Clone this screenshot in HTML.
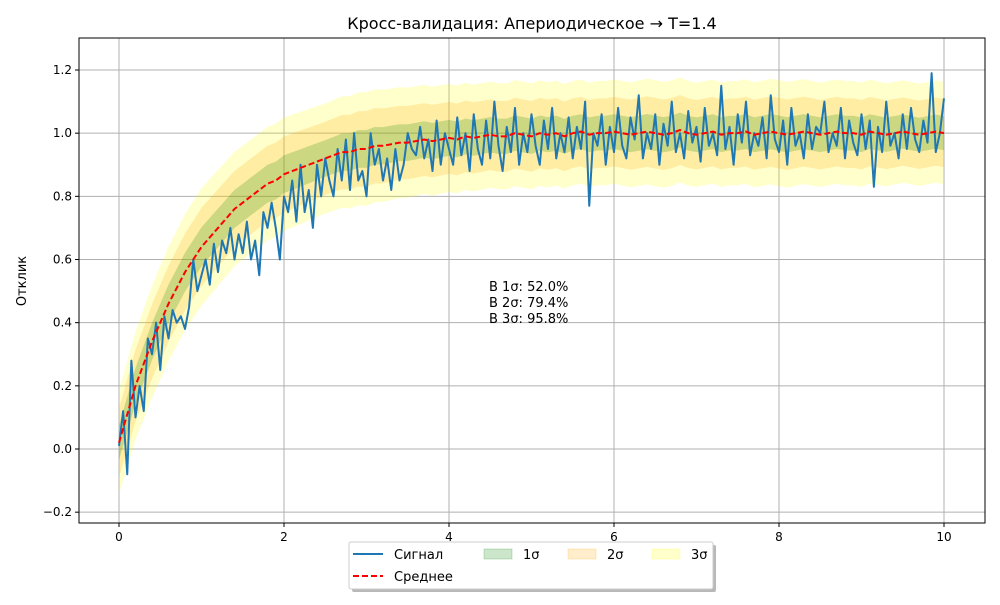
<!DOCTYPE html>
<html><head><meta charset="utf-8"><style>
body{margin:0;background:#fff;font-family:"Liberation Sans","DejaVu Sans",sans-serif}
</style></head><body>
<svg id="chart" width="1000" height="600" xmlns="http://www.w3.org/2000/svg" font-family="DejaVu Sans, Liberation Sans, sans-serif">
<rect width="1000" height="600" fill="#fff"/>
<g id="grid"></g>
<g id="bands"></g>
<g id="lines"></g>
<rect x="79" y="38" width="906" height="485" fill="none" stroke="#000" stroke-width="1"/>
<g id="ticks" font-size="12"></g>
<text x="532" y="29" text-anchor="middle" font-size="16">Кросс-валидация: Апериодическое → T=1.4</text>
<text transform="translate(26,281) rotate(-90)" text-anchor="middle" font-size="13">Отклик</text>
<g font-size="13">
<text x="489" y="291">В 1σ: 52.0%</text>
<text x="489" y="307">В 2σ: 79.4%</text>
<text x="489" y="323">В 3σ: 95.8%</text>
</g>
<g>
<rect x="352" y="545" width="364" height="47" rx="2" fill="#888" opacity="0.6"/>
<rect x="349" y="542" width="364" height="47" rx="2" fill="#fff" stroke="#ccc"/>
<line x1="353" y1="554" x2="383" y2="554" stroke="#1f77b4" stroke-width="2"/>
<text x="394" y="559" font-size="13">Сигнал</text>
<line x1="353" y1="576" x2="383" y2="576" stroke="#f00" stroke-width="2" stroke-dasharray="6,3"/>
<text x="394" y="581" font-size="13">Среднее</text>
<rect x="484" y="549" width="28" height="10" fill="green" fill-opacity="0.2" stroke="green" stroke-opacity="0.2"/>
<text x="523" y="559" font-size="13">1σ</text>
<rect x="568" y="549" width="28" height="10" fill="orange" fill-opacity="0.2" stroke="orange" stroke-opacity="0.2"/>
<text x="607" y="559" font-size="13">2σ</text>
<rect x="652" y="549" width="28" height="10" fill="yellow" fill-opacity="0.2" stroke="yellow" stroke-opacity="0.2"/>
<text x="691" y="559" font-size="13">3σ</text>
</g>
</svg>
<script>
const xTicks=[0,2,4,6,8,10];
const yTicks=[-0.2,0,0.2,0.4,0.6,0.8,1.0,1.2];
const signalStep=0.05;
const signal=[0.01,0.12,-0.08,0.28,0.10,0.20,0.12,0.35,0.30,0.40,0.25,0.42,0.35,0.44,0.40,0.42,0.38,0.45,0.60,0.50,
0.55,0.60,0.52,0.65,0.56,0.66,0.62,0.70,0.60,0.68,0.62,0.72,0.60,0.66,0.55,0.75,0.70,0.78,0.70,0.60,
0.80,0.75,0.85,0.72,0.90,0.75,0.82,0.70,0.90,0.80,0.92,0.85,0.80,0.95,0.85,0.98,0.82,1.00,0.85,0.88,
0.80,1.00,0.90,0.95,0.85,0.92,0.82,0.95,0.85,0.90,1.00,0.95,0.93,1.02,0.92,0.98,0.88,1.04,0.90,1.00,
0.95,0.90,1.05,0.93,1.00,0.88,1.06,0.95,0.90,1.04,0.92,1.10,0.96,0.88,1.02,0.94,1.08,0.90,1.00,0.94,
1.06,0.96,0.90,1.04,0.95,1.08,0.92,1.00,0.94,1.05,0.92,1.02,0.95,1.10,0.77,1.00,0.96,1.06,0.90,1.02,
0.94,1.08,0.96,0.92,1.05,0.98,1.12,0.92,1.00,0.95,1.06,0.90,1.03,0.96,1.10,0.94,1.00,0.92,1.07,0.97,
1.02,0.91,1.08,0.96,1.00,0.93,1.15,0.95,1.02,0.90,1.06,0.97,1.10,0.93,1.00,0.96,1.05,0.92,1.12,0.98,
0.94,1.04,0.90,1.08,0.96,1.00,0.92,1.06,0.95,1.02,1.00,1.10,0.94,1.00,0.96,1.08,0.92,1.04,0.97,0.93,
1.06,0.95,1.04,0.83,1.02,0.94,1.10,0.96,1.00,0.92,1.06,0.95,1.08,0.98,0.94,1.04,0.97,1.19,0.94,1.00,
1.11];
const meanStep=0.1;
const meanVals=[0.02,0.11,0.20,0.27,0.34,0.40,0.46,0.51,0.56,0.60,0.64,0.67,0.70,0.73,0.76,0.78,0.80,0.82,0.84,0.85,
0.87,0.88,0.89,0.90,0.91,0.92,0.93,0.94,0.94,0.95,0.95,0.96,0.96,0.965,0.97,0.97,0.975,0.98,0.975,0.98,
0.985,0.98,0.99,0.985,0.99,0.995,0.99,0.99,1.0,0.995,0.99,1.0,0.995,1.0,0.99,1.0,1.005,0.995,1.0,1.0,
1.005,1.0,0.995,1.0,1.005,1.0,0.995,1.0,1.01,1.0,0.995,1.0,1.005,0.995,1.0,1.0,1.005,0.995,1.0,1.005,
1.0,0.995,1.0,1.005,1.0,0.995,1.0,1.005,1.0,1.0,0.995,1.005,1.0,0.995,1.0,1.005,1.0,0.995,1.0,1.005,1.0];
const sigmaStep=0.5;
const sigmaVals=[0.055,0.06,0.062,0.06,0.06,0.058,0.06,0.058,0.057,0.056,0.056,0.055,0.055,0.056,0.055,0.055,0.056,0.055,0.055,0.054,0.054];

const X0=79,X1=985,Y0=38,Y1=523;
const xs=v=>119+(v-0)*(944-119)/10;
const ys=v=>449-v*(449-70)/1.2;
const NS="http://www.w3.org/2000/svg";
function mk(tag,attrs,parent){const e=document.createElementNS(NS,tag);for(const k in attrs)e.setAttribute(k,attrs[k]);parent.appendChild(e);return e;}
const grid=document.getElementById('grid'),ticks=document.getElementById('ticks');
xTicks.forEach(t=>{const x=xs(t);
 const g=mk('line',{x1:x,x2:x,y1:Y0,y2:Y1,stroke:'#b0b0b0','stroke-width':1},grid);
 
 
 mk('line',{x1:x,x2:x,y1:Y1,y2:Y1+4,stroke:'#000'},ticks);
 const tx=mk('text',{x:x,y:Y1+18,'text-anchor':'middle'},ticks);tx.textContent=t;
 
 
});
yTicks.forEach(t=>{const y=ys(t);
 const g=mk('line',{x1:X0,x2:X1,y1:y,y2:y,stroke:'#b0b0b0','stroke-width':1},grid);
 
 
 mk('line',{x1:X0-4,x2:X0,y1:y,y2:y,stroke:'#000'},ticks);
 const tx=mk('text',{x:X0-7,y:y+4,'text-anchor':'end'},ticks);tx.textContent=(t<0?'−'+Math.abs(t).toFixed(1):t.toFixed(1));
 
 
});
function sigmaAt(x){const i=x/sigmaStep,i0=Math.min(Math.floor(i),sigmaVals.length-2),f=i-i0;return sigmaVals[i0]*(1-f)+sigmaVals[i0+1]*f;}
const bands=document.getElementById('bands');
[[3,'yellow'],[2,'orange'],[1,'green']].forEach(([k,c])=>{
 let up=[],lo=[];
 meanVals.forEach((m,i)=>{const x=i*meanStep,s=sigmaAt(x);up.push(xs(x)+','+ys(m+k*s));lo.unshift(xs(x)+','+ys(m-k*s));});
 const p=mk('polygon',{points:up.concat(lo).join(' '),fill:c,'fill-opacity':0.2},bands);
 
 
});
const lines=document.getElementById('lines');
const sp=mk('polyline',{points:signal.map((v,i)=>xs(i*signalStep)+','+ys(v)).join(' '),fill:'none',stroke:'#1f77b4','stroke-width':2,'stroke-linejoin':'round'},lines);


const mp=mk('polyline',{points:meanVals.map((v,i)=>xs(i*meanStep)+','+ys(v)).join(' '),fill:'none',stroke:'#f00','stroke-width':2,'stroke-dasharray':'6,3'},lines);


</script>
</body></html>
